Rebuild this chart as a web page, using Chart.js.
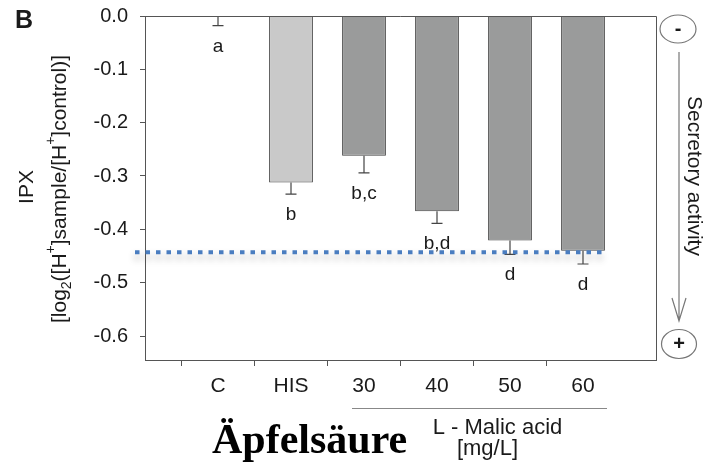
<!DOCTYPE html>
<html>
<head>
<meta charset="utf-8">
<script src="https://cdn.jsdelivr.net/npm/chart.js@4.4.1/dist/chart.umd.min.js"></script>
<style>
  body { margin: 0; background: #fff; }
  #wrap { width: 713px; height: 463px; }
</style>
</head>
<body>
<div id="wrap"><canvas id="ipxChart" width="713" height="463"></canvas></div>
<script>
// values (IPX, lower error only)
const categories = ['C', 'HIS', '30', '40', '50', '60'];
const ipxMeans = [-0.002, -0.312, -0.262, -0.366, -0.421, -0.440];
const ipxErrors = [0.016, 0.022, 0.032, 0.023, 0.026, 0.025];
const letters = ['a', 'b', 'b,c', 'b,d', 'd', 'd'];
const yTicks = [0, -0.1, -0.2, -0.3, -0.4, -0.5, -0.6];
const yMin = -0.645;
const thresholdValue = -0.443;

const SANS = '"Liberation Sans", Arial, sans-serif';
const axisGray = '#555';

// empty slot on each side so that C sits one full step from the axis
const labels = [''].concat(categories, ['']);
const values = [null].concat(ipxMeans, [null]);

function barFill(ctx) {
  return labels[ctx.dataIndex] === 'HIS' ? '#c9c9c9' : '#9a9b9b';
}

const extras = {
  id: 'extras',
  afterDatasetsDraw(chart) {
    const ctx = chart.ctx;
    const x = chart.scales.x, y = chart.scales.y;
    const area = chart.chartArea;

    // box around plot
    ctx.save();
    ctx.strokeStyle = axisGray;
    ctx.lineWidth = 1;
    ctx.beginPath();
    ctx.moveTo(area.left, area.top + 0.5);
    ctx.lineTo(area.right + 0.5, area.top + 0.5);
    ctx.lineTo(area.right + 0.5, area.bottom);
    ctx.stroke();

    // error bars + letters
    ctx.strokeStyle = '#444';
    ctx.lineWidth = 1.2;
    ctx.fillStyle = '#1a1a1a';
    ctx.font = '19px ' + SANS;
    ctx.textAlign = 'center';
    ctx.textBaseline = 'alphabetic';
    categories.forEach((c, i) => {
      const px = x.getPixelForValue(i + 1);
      const yTop = y.getPixelForValue(ipxMeans[i]);
      const yBot = y.getPixelForValue(ipxMeans[i] - ipxErrors[i]);
      ctx.beginPath();
      ctx.moveTo(px, yTop);
      ctx.lineTo(px, yBot);
      ctx.moveTo(px - 5.5, yBot);
      ctx.lineTo(px + 5.5, yBot);
      ctx.stroke();
      ctx.fillText(letters[i], px, yBot + 26);
    });
    ctx.restore();
  },
  afterDraw(chart) {
    const ctx = chart.ctx;
    const x = chart.scales.x, y = chart.scales.y;
    const area = chart.chartArea;
    const x30 = x.getPixelForValue(3), x60 = x.getPixelForValue(6);

    ctx.save();
    // dotted threshold line with soft shadow
    const ty = y.getPixelForValue(thresholdValue);
    ctx.shadowColor = 'rgba(60,60,60,0.4)';
    ctx.shadowBlur = 7;
    ctx.shadowOffsetY = 5;
    ctx.strokeStyle = '#4a7dc0';
    ctx.lineWidth = 4;
    ctx.setLineDash([4.5, 6]);
    ctx.beginPath();
    ctx.moveTo(area.left - 10, ty);
    ctx.lineTo(x60 + 24, ty);
    ctx.stroke();
    ctx.restore();

    ctx.save();
    ctx.fillStyle = '#1a1a1a';
    // panel letter
    ctx.font = 'bold 25px ' + SANS;
    ctx.textAlign = 'left';
    ctx.fillText('B', 15, 28);

    // y title, line 1
    ctx.save();
    ctx.translate(33, 187);
    ctx.rotate(-Math.PI / 2);
    ctx.font = '21px ' + SANS;
    ctx.textAlign = 'center';
    ctx.fillText('IPX', 0, 0);
    ctx.restore();

    // y title, line 2 with sub/superscripts
    const parts = [
      ['[log', 'n'], ['2', 'sub'], ['([H', 'n'], ['+', 'sup'],
      [']sample/[H', 'n'], ['+', 'sup'], [']control)]', 'n']
    ];
    const fs = 21, small = 14;
    ctx.save();
    ctx.translate(66, 189);
    ctx.rotate(-Math.PI / 2);
    ctx.textAlign = 'left';
    let total = 0;
    parts.forEach(p => {
      ctx.font = (p[1] === 'n' ? fs : small) + 'px ' + SANS;
      total += ctx.measureText(p[0]).width;
    });
    let cx = -total / 2;
    parts.forEach(p => {
      ctx.font = (p[1] === 'n' ? fs : small) + 'px ' + SANS;
      const dy = p[1] === 'sub' ? 5 : (p[1] === 'sup' ? -11 : 0);
      ctx.fillText(p[0], cx, dy);
      cx += ctx.measureText(p[0]).width;
    });
    ctx.restore();

    // right-hand secretory activity arrow
    ctx.strokeStyle = '#777';
    ctx.lineWidth = 1.2;
    ctx.beginPath();
    ctx.ellipse(678, 29, 18, 14, 0, 0, Math.PI * 2);
    ctx.stroke();
    ctx.beginPath();
    ctx.ellipse(679, 344, 17.5, 14.5, 0, 0, Math.PI * 2);
    ctx.stroke();
    ctx.beginPath();
    ctx.moveTo(679, 52);
    ctx.lineTo(679, 321);
    ctx.moveTo(672, 298);
    ctx.lineTo(679, 321);
    ctx.lineTo(686, 298);
    ctx.stroke();
    ctx.font = 'bold 20px ' + SANS;
    ctx.textAlign = 'center';
    ctx.textBaseline = 'middle';
    ctx.fillText('-', 678, 29);
    ctx.fillText('+', 679, 344);

    ctx.save();
    ctx.translate(688, 176);
    ctx.rotate(Math.PI / 2);
    ctx.font = '21px ' + SANS;
    ctx.textBaseline = 'alphabetic';
    ctx.fillText('Secretory activity', 0, 0);
    ctx.restore();

    // L-malic acid bracket
    ctx.strokeStyle = '#888';
    ctx.lineWidth = 1.2;
    ctx.beginPath();
    ctx.moveTo(x30 - 12, 408.5);
    ctx.lineTo(x60 + 24, 408.5);
    ctx.stroke();
    ctx.font = '22px ' + SANS;
    ctx.textBaseline = 'alphabetic';
    const mid = (x30 + x60) / 2;
    ctx.fillText('L - Malic acid', mid + 24, 434);
    ctx.fillText('[mg/L]', mid + 14, 455);

    // German caption
    ctx.fillStyle = '#000';
    ctx.font = 'bold 42px "Liberation Serif", "Times New Roman", serif';
    ctx.textAlign = 'left';
    ctx.fillText('Äpfelsäure', 212, 453);
    ctx.restore();
  }
};

new Chart(document.getElementById('ipxChart'), {
  type: 'bar',
  data: {
    labels: labels,
    datasets: [{
      data: values,
      backgroundColor: barFill,
      borderColor: '#404040',
      borderWidth: 1,
      categoryPercentage: 1,
      barPercentage: 0.6
    }]
  },
  options: {
    responsive: false,
    devicePixelRatio: 1,
    animation: false,
    layout: { padding: { left: 0, top: 16, right: 57, bottom: 63 } },
    plugins: { legend: { display: false }, tooltip: { enabled: false } },
    scales: {
      x: {
        offset: false,
        grid: {
          drawOnChartArea: false,
          tickLength: 6,
          tickColor: c => (c.index === 0 || c.index === labels.length - 1) ? 'rgba(0,0,0,0)' : axisGray,
          color: 'rgba(0,0,0,0)'
        },
        border: { display: true, color: axisGray, width: 1 },
        ticks: {
          autoSkip: false,
          maxRotation: 0,
          padding: 8,
          color: '#1a1a1a',
          font: { family: SANS, size: 21 }
        },
        afterFit: s => { s.height = 40; s.paddingLeft = 0; s.paddingRight = 0; }
      },
      y: {
        min: yMin,
        max: 0,
        afterBuildTicks: s => { s.ticks = yTicks.map(v => ({ value: v })); },
        grid: { drawOnChartArea: false, tickLength: 5, color: axisGray },
        border: { display: true, color: axisGray, width: 1 },
        ticks: {
          padding: 12,
          color: '#1a1a1a',
          font: { family: SANS, size: 20 },
          callback: v => Math.abs(v) < 1e-9 ? '0.0' : v.toFixed(1)
        },
        afterFit: s => { s.width = 145; s.paddingTop = 0; s.paddingBottom = 0; }
      }
    }
  },
  plugins: [extras]
});
</script>
</body>
</html>
